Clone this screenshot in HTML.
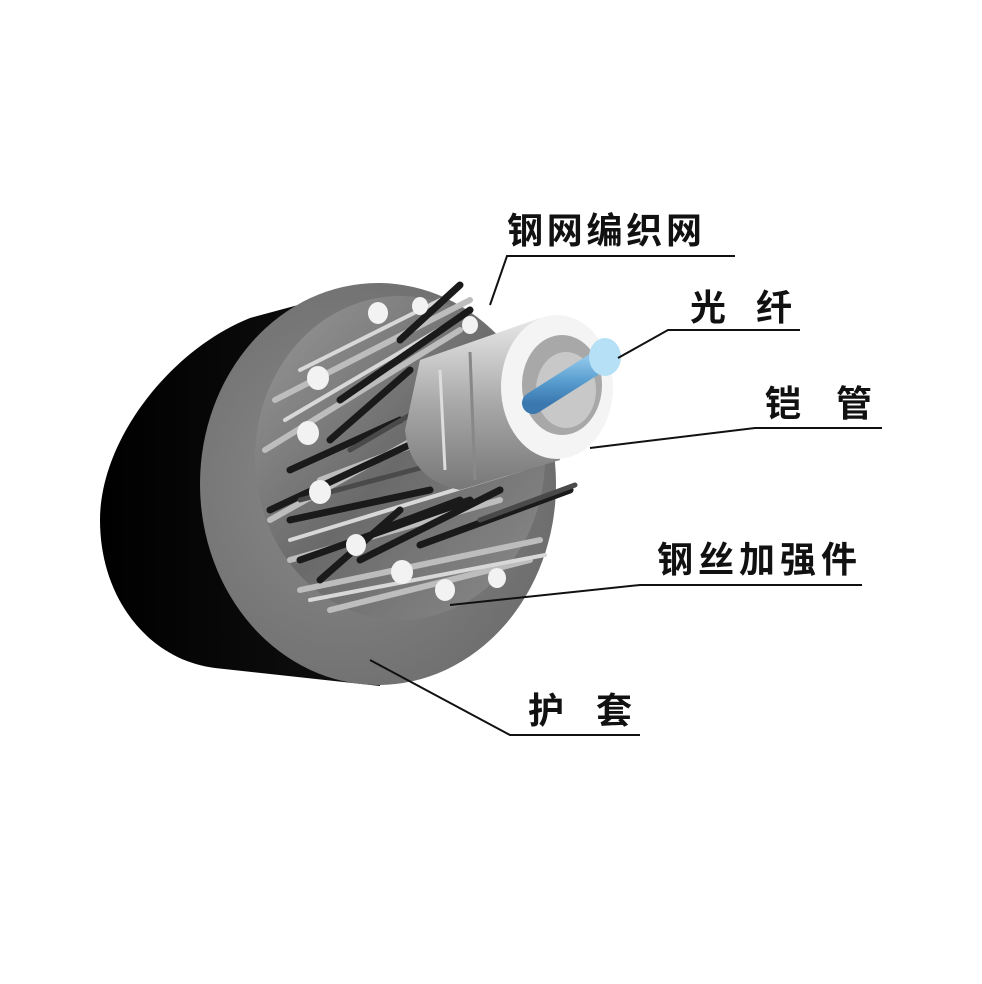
<!DOCTYPE html>
<html><head><meta charset="utf-8"><style>
html,body{margin:0;padding:0;background:#fff}
svg{display:block}
text{font-family:"Liberation Sans","Noto Sans CJK SC",sans-serif;font-size:36px;font-weight:bold;fill:#111;letter-spacing:3px}
</style></head><body>
<svg width="982" height="984" viewBox="0 0 982 984">
<defs>
<linearGradient id="blk" x1="0" y1="0" x2="1" y2="0"><stop offset="0" stop-color="#000"/><stop offset="1" stop-color="#111"/></linearGradient>
<radialGradient id="disk" cx="0.4" cy="0.5" r="0.6"><stop offset="0" stop-color="#8a8a8a"/><stop offset="1" stop-color="#6e6e6e"/></radialGradient>
<linearGradient id="inner" x1="0" y1="0" x2="1" y2="1"><stop offset="0" stop-color="#9a9a9a"/><stop offset="0.5" stop-color="#6a6a6a"/><stop offset="1" stop-color="#8c8c8c"/></linearGradient>
<linearGradient id="tube" x1="0" y1="0" x2="0" y2="1"><stop offset="0" stop-color="#e8e8e8"/><stop offset="0.5" stop-color="#a8a8a8"/><stop offset="1" stop-color="#777"/></linearGradient>
<linearGradient id="fib" x1="0" y1="0" x2="0" y2="1"><stop offset="0" stop-color="#8fc6ea"/><stop offset="0.5" stop-color="#5a9fd0"/><stop offset="1" stop-color="#3b78b0"/></linearGradient>
</defs>
<path d="M250,318 C170,350 100,440 100,520 C100,600 150,660 215,668 L380,686 L380,283 Z" fill="url(#blk)"/>
<ellipse cx="378" cy="484" rx="178" ry="201" fill="url(#disk)"/>
<ellipse cx="400" cy="458" rx="145" ry="162" fill="url(#inner)"/>
<g stroke-linecap="round">
<g stroke="#bdbdbd" stroke-width="6">
<line x1="275" y1="400" x2="470" y2="300"/><line x1="265" y1="450" x2="460" y2="330"/>
<line x1="270" y1="520" x2="520" y2="380"/><line x1="300" y1="590" x2="540" y2="540"/>
<line x1="330" y1="610" x2="530" y2="560"/><line x1="290" y1="560" x2="500" y2="500"/>
<line x1="320" y1="480" x2="480" y2="420"/>
</g>
<g stroke="#d8d8d8" stroke-width="4">
<line x1="285" y1="420" x2="455" y2="320"/><line x1="310" y1="600" x2="545" y2="555"/>
<line x1="290" y1="540" x2="520" y2="470"/><line x1="300" y1="370" x2="440" y2="300"/>
</g>
<g stroke="#1a1a1a" stroke-width="7">
<line x1="400" y1="340" x2="460" y2="285"/><line x1="340" y1="400" x2="470" y2="310"/>
<line x1="290" y1="470" x2="400" y2="420"/><line x1="270" y1="510" x2="420" y2="440"/>
<line x1="290" y1="520" x2="430" y2="490"/><line x1="300" y1="560" x2="470" y2="500"/>
<line x1="320" y1="580" x2="400" y2="510"/><line x1="360" y1="560" x2="500" y2="490"/>
<line x1="420" y1="545" x2="570" y2="490"/><line x1="380" y1="530" x2="460" y2="500"/>
<line x1="330" y1="440" x2="410" y2="370"/>
</g>
<g stroke="#4a4a4a" stroke-width="5">
<line x1="300" y1="500" x2="450" y2="460"/><line x1="350" y1="450" x2="470" y2="380"/>
<line x1="480" y1="520" x2="575" y2="485"/>
</g>
</g>
<g fill="#f2f2f2">
<ellipse cx="378" cy="313" rx="10" ry="11"/><ellipse cx="420" cy="306" rx="8" ry="9"/>
<ellipse cx="318" cy="378" rx="11" ry="12"/><ellipse cx="308" cy="433" rx="11" ry="12"/>
<ellipse cx="320" cy="492" rx="11" ry="12"/><ellipse cx="356" cy="545" rx="10" ry="11"/>
<ellipse cx="402" cy="572" rx="11" ry="12"/><ellipse cx="445" cy="590" rx="10" ry="11"/>
<ellipse cx="497" cy="578" rx="9" ry="10"/><ellipse cx="470" cy="325" rx="8" ry="9"/>
</g>
<path d="M420,360 L540,318 L560,460 L460,490 Q410,480 405,430 Z" fill="url(#tube)"/>
<path d="M440,370 L445,470" stroke="#ddd" stroke-width="3"/>
<path d="M470,352 L475,480" stroke="#888" stroke-width="3"/>
<ellipse cx="557" cy="387" rx="56" ry="72" fill="#f4f4f4"/>
<ellipse cx="562" cy="385" rx="40" ry="50" fill="#a8a8a8"/>
<ellipse cx="566" cy="390" rx="30" ry="38" fill="#c8c8c8"/>
<line x1="533" y1="403" x2="604" y2="358" stroke="url(#fib)" stroke-width="22" stroke-linecap="round"/>
<ellipse cx="605" cy="357" rx="16" ry="19" fill="#b5e0f5"/>
<g stroke="#111" stroke-width="2" fill="none">
<polyline points="490,305 507,256 735,256"/>
<polyline points="618,358 668,330 800,330"/>
<polyline points="590,448 755,428 882,428"/>
<polyline points="450,605 640,585 862,585"/>
<polyline points="370,660 510,735 640,735"/>
</g>
<text x="507" y="243" textLength="198">钢网编织网</text>
<text x="690" y="320" textLength="105">光 纤</text>
<text x="765" y="416" textLength="110">铠 管</text>
<text x="657" y="572" textLength="203">钢丝加强件</text>
<text x="528" y="723" textLength="107">护 套</text>
</svg>
</body></html>
